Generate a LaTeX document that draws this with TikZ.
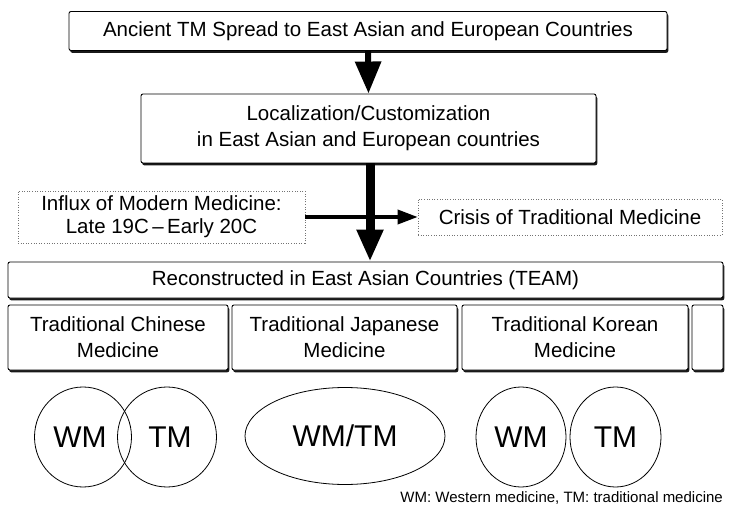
\documentclass[tikz,border=0pt]{standalone}
\usepackage{fontspec}
\setmainfont{Liberation Sans}
\usetikzlibrary{arrows.meta,shadows,shapes.geometric}
\begin{document}
\begin{tikzpicture}[x=1pt,y=-1pt,
  box/.style={draw=black,line width=0.9pt,fill=white,rounded corners=2pt,
    drop shadow={shadow xshift=1.3pt,shadow yshift=-2.3pt,fill=black,opacity=0.9},
    inner sep=0pt,align=center,font=\fontsize{20.5}{26}\selectfont},
  dotbox/.style={draw=black!55,line width=0.6pt,dash pattern=on 1pt off 1.6pt,
    inner sep=0pt,align=center,font=\fontsize{20.5}{23}\selectfont},
  ring/.style={draw=black,line width=0.8pt,ellipse,inner sep=0pt,
    font=\fontsize{30}{30}\selectfont},
  bigarrow/.style={-{Triangle[width=25pt,length=32pt]}}
]
\useasboundingbox (0,0) rectangle (729,508);
% top box
\node[box,minimum width=598pt,minimum height=39pt] (top) at (368,31)
  {Ancient TM Spread to East Asian and European Countries};
\node[box,minimum width=455pt,minimum height=69pt] (loc) at (368.5,128.5)
  {Localization/Customization\\in East Asian and European countries};
\node[dotbox,minimum width=287pt,minimum height=52pt] (influx) at (161.5,217)
  {Influx of Modern Medicine:\\Late 19C\,–\,Early 20C};
\node[dotbox,minimum width=304pt,minimum height=36pt] (crisis) at (570,217)
  {Crisis of Traditional Medicine};
\node[box,minimum width=715pt,minimum height=36pt] (recon) at (365.5,280)
  {Reconstructed in East Asian Countries (TEAM)};
\node[box,minimum width=220pt,minimum height=65pt] (tcm) at (118,337.5)
  {Traditional Chinese\\Medicine};
\node[box,minimum width=225pt,minimum height=65pt] (tjm) at (344.5,337.5)
  {Traditional Japanese\\Medicine};
\node[box,minimum width=226pt,minimum height=65pt] (tkm) at (575,337.5)
  {Traditional Korean\\Medicine};
\node[box,minimum width=31pt,minimum height=65pt] (other) at (707.5,337.5) {};
% circles
\node[ring,minimum width=97pt,minimum height=100pt] (cwm) at (83,437) {};
\node[ring,minimum width=99pt,minimum height=100pt] (ctm) at (167,437) {};
\node[font=\fontsize{30}{30}\selectfont] (cwmt) at (80,437) {WM};
\node[font=\fontsize{30}{30}\selectfont] (ctmt) at (170,437) {TM};
\node[ring,minimum width=200pt,minimum height=97pt] (jwt) at (345,436) {WM/TM};
\node[ring,minimum width=90pt,minimum height=100pt] (kwm) at (521,437) {WM};
\node[ring,minimum width=91pt,minimum height=100pt] (ktm) at (615.5,437) {TM};
% footnote
\node[anchor=east,inner sep=0pt,font=\fontsize{15}{15}\selectfont] (foot) at (723,498)
  {WM: Western medicine, TM: traditional medicine};
% arrows
\draw[bigarrow,line width=6pt] (top.south) -- (loc.north);
\draw[-{Triangle[width=14pt,length=20pt]},line width=3.4pt] (influx.east) -- (crisis.west);
\coordinate (a2s) at ([xshift=1.5pt]loc.south);
\draw[bigarrow,line width=9pt] (a2s) -- (a2s |- recon.north);
\end{tikzpicture}
\end{document}
